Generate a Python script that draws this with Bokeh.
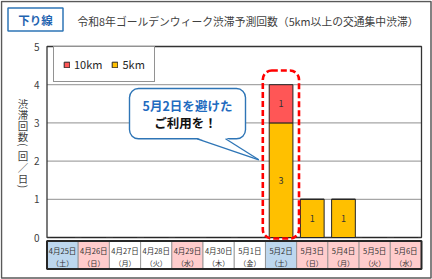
import math
from bokeh.plotting import figure
from bokeh.models import Range1d, ColumnDataSource, Legend, LegendItem
from bokeh.core.properties import value
from bokeh.embed import file_html
from bokeh.resources import INLINE

# ---------------- data ----------------
dates = ["4月25日", "4月26日", "4月27日", "4月28日", "4月29日", "4月30日",
         "5月1日", "5月2日", "5月3日", "5月4日", "5月5日", "5月6日"]
weekdays = ["土", "日", "月", "火", "水", "木", "金", "土", "日", "月", "火", "水"]
day_types = ["sat", "hol", "wk", "wk", "hol", "wk", "wk", "sat", "hol", "hol", "hol", "hol"]
jam_5km = [0, 0, 0, 0, 0, 0, 0, 3, 1, 1, 0, 0]
jam_10km = [0, 0, 0, 0, 0, 0, 0, 1, 0, 0, 0, 0]
y_ticks = [0, 1, 2, 3, 4, 5]
series_labels = ["10km", "5km"]
title_text = "令和8年ゴールデンウィーク渋滞予測回数（5km以上の交通集中渋滞）"
badge_text = "下り線"
y_title = "渋滞回数(回/日)"
callout_line1 = "5月2日を避けた"
callout_line2 = "ご利用を！"
highlight_date = "5月2日"

# ---------------- styling ----------------
FONT = "Noto Sans CJK JP"
C5 = "#FFC000"
C10 = "#FF5656"
CELL = {"sat": "#BDD7EE", "hol": "#FFCCCC", "wk": "#FFFFFF"}
BLUE = "#2E75B6"

W, H = 432, 279
PL, PR = 46.5, 421.0
PY0, PYTOP = 237.0, 46.0
n = len(dates)
ymax = y_ticks[-1]
ppx = (PR - PL) / n
ppy = (PY0 - PYTOP) / ymax


def X(px):
    return (px - PL) / ppx


def Y(py):
    return (PY0 - py) / ppy


p = figure(width=W, height=H, output_backend="svg", toolbar_location=None,
           x_range=Range1d(X(0), X(W)), y_range=Range1d(Y(H), Y(0)),
           x_axis_location=None, y_axis_location=None, min_border=0)
p.outline_line_color = None
p.xgrid.visible = False
p.ygrid.visible = False
p.background_fill_color = "white"
p.border_fill_color = "white"


def txt(x, y, s, size, color="#404040", align="center", baseline="middle",
        bold=False, angle=0.0):
    p.text(x=[x], y=[y], text=[s], text_font=value(FONT), text_font_size=size,
           text_color=color, text_align=align, text_baseline=baseline,
           text_font_style="bold" if bold else "normal", angle=angle)


# outer border
p.quad(left=[X(1)], right=[X(430.5)], bottom=[Y(277.5)], top=[Y(1)],
       fill_color=None, line_color="#595959", line_width=1.5)

# header badge + title
p.quad(left=[X(7.5)], right=[X(62.5)], bottom=[Y(30.5)], top=[Y(7.5)],
       fill_color="white", line_color=BLUE, line_width=1.5)
txt(X(35), Y(19.5), badge_text, "11.5px", color="#1F64B0", bold=True)
txt(X(77), Y(20.5), title_text, "10.8px", color="#404040", align="left")

# date table
xs = [i + 0.5 for i in range(n)]
p.quad(left=[i for i in range(n)], right=[i + 1 for i in range(n)],
       bottom=Y(268.5), top=Y(240.5),
       fill_color=[CELL[t] for t in day_types], line_color="#8C8C8C", line_width=0.8)
p.quad(left=[0], right=[n], bottom=[Y(268.5)], top=[Y(240.5)],
       fill_color=None, line_color="#262626", line_width=2)
p.text(x=xs, y=[Y(249.5)] * n, text=dates, text_font=value(FONT),
       text_font_size="7.5px", text_color="#333333", text_align="center",
       text_baseline="middle")
p.text(x=xs, y=[Y(262)] * n, text=["（" + w + "）" for w in weekdays],
       text_font=value(FONT), text_font_size="7.2px", text_color="#333333",
       text_align="center", text_baseline="middle")

# gridlines
inner = [t for t in y_ticks if 0 < t < ymax]
p.segment(x0=[0] * len(inner), x1=[n] * len(inner), y0=inner, y1=inner,
          line_color="#A6A6A6", line_width=1.2)

# plot frame
p.quad(left=[0], right=[n], bottom=[0], top=[ymax], fill_color=None,
       line_color="#333333", line_width=1.3)

# bars
src = ColumnDataSource(dict(x=xs, km5=jam_5km, km10=jam_10km))
r5, r10 = p.vbar_stack(["km5", "km10"], x="x", width=0.76, source=src,
                       fill_color=[C5, C10], line_color="#262626", line_width=1)

# value labels
for i in range(n):
    if jam_5km[i] > 0:
        txt(xs[i], jam_5km[i] / 2, str(jam_5km[i]), "9px", color="#333333")
    if jam_10km[i] > 0:
        txt(xs[i], jam_5km[i] + jam_10km[i] / 2, str(jam_10km[i]), "9px", color="#333333")

# highlight dashed rounded box
hi = dates.index(highlight_date)
tot = jam_5km[hi] + jam_10km[hi]
p.quad(left=[xs[hi] - 0.585], right=[xs[hi] + 0.575], bottom=[Y(238)],
       top=[tot + 0.37], fill_color=None, line_color="#FF0000", line_width=2.6,
       line_dash="6 3", border_radius=9)

# callout
p.quad(left=[X(129)], right=[X(245)], bottom=[Y(138.3)], top=[Y(88)],
       fill_color="white", line_color=BLUE, line_width=1.4, border_radius=9)
p.patch(x=[X(196.2), X(258.3), X(225.6)], y=[Y(137.2), Y(159.3), Y(137.2)],
        fill_color="white", line_color=None)
p.line(x=[X(196.7), X(258.3)], y=[Y(138.3), Y(159.3)], line_color=BLUE, line_width=1.3)
p.line(x=[X(225.0), X(258.3)], y=[Y(138.3), Y(159.3)], line_color=BLUE, line_width=1.3)
txt(X(187), Y(105), callout_line1, "12.5px", color="#1F6BC0", bold=True)
txt(X(185), Y(122), callout_line2, "12.5px", color="#111111", bold=True)

# y tick labels
p.text(x=[X(39)] * len(y_ticks), y=y_ticks, text=[str(t) for t in y_ticks],
       text_font=value(FONT), text_font_size="10px", text_color="#404040",
       text_align="right", text_baseline="middle")

# vertical y title
cy = 97.0
for ch in y_title:
    h = 5.0 if ch in "()" else 11.2
    ang = -math.pi / 2 if ch in "()" else 0.0
    s = ch if ch in "()" else ("／" if ch == "/" else ch)
    txt(X(22.5), Y(cy + h / 2), s, "10.5px", color="#404040", angle=ang)
    cy += h + (3.0 if ch in "()" else 0.0)

# legend
legend = Legend(items=[LegendItem(label=value(series_labels[0]), renderers=[r10]),
                       LegendItem(label=value(series_labels[1]), renderers=[r5])],
                orientation="horizontal", location=(53, H - 82), margin=0,
                padding=9, spacing=9, glyph_width=7, glyph_height=7,
                label_standoff=4, label_height=15,
                label_text_font=FONT, label_text_font_size="11px",
                label_text_color="#262626",
                border_line_color="#262626", border_line_width=1.5,
                background_fill_color="white", background_fill_alpha=1.0)
p.add_layout(legend)

open("out.html", "w").write(file_html(p, INLINE))
